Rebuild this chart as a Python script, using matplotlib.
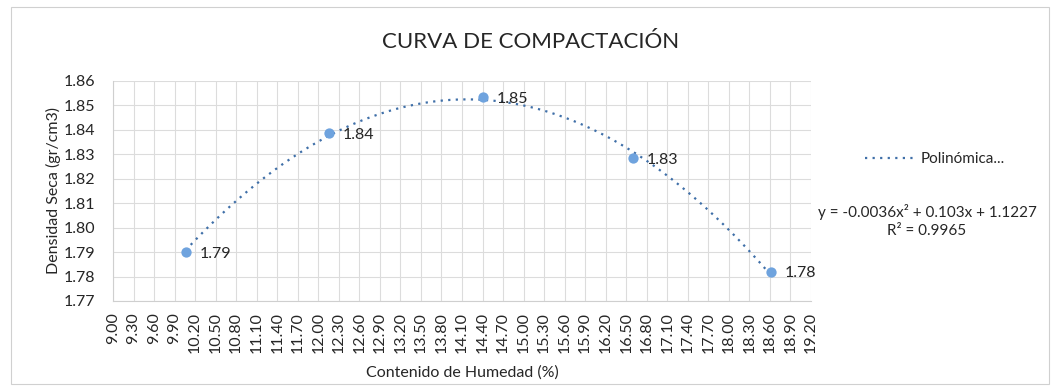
import numpy as np
import matplotlib
matplotlib.use("Agg")
import matplotlib.pyplot as plt
from matplotlib.patches import Rectangle
from matplotlib.lines import Line2D

plt.rcParams['font.family'] = ['Lato', 'DejaVu Sans']

# ensayo Proctor: humedad (%) y densidad seca (gr/cm3)
humedad = [10.06, 12.15, 14.40, 16.60, 18.61]
densidad = [1.790, 1.8386, 1.8534, 1.8284, 1.7819]
x_ticks = np.round(np.arange(9.0, 19.21, 0.3), 2)
y_ticks = [1.77, 1.78, 1.79, 1.80, 1.81, 1.82, 1.83, 1.84, 1.85, 1.86]
ecuacion = "y = -0.0036x² + 0.103x + 1.1227\nR² = 0.9965"

txt = '#262626'
fig = plt.figure(figsize=(10.52, 3.87), dpi=100)
ax = fig.add_axes([113/1052, 1 - 301/387, 698/1052, 220/387])

# marco del grafico
fig.patches.append(Rectangle((11/1052, 3/387), 1038/1052, 377/387, transform=fig.transFigure,
                             fill=False, edgecolor='#d0d0d0', linewidth=0.8))

# linea de tendencia polinomica de grado 2
coef = np.polyfit(humedad, densidad, 2)
xs = np.linspace(min(humedad), max(humedad), 200)
ax.plot(xs, np.polyval(coef, xs), linestyle=(0, (1, 2.4)), color='#3f6fa8', linewidth=1.6, zorder=2)
ax.scatter(humedad, densidad, s=55, color='#6fa3de', zorder=3, linewidths=0)

for xv, yv in zip(humedad, densidad):
    ax.annotate(f"{yv:.2f}", (xv, yv), xytext=(10, -1), textcoords='offset points',
                fontsize=11.5, color=txt, va='center', ha='left')

ax.set_xlim(9.0, 19.2)
ax.set_ylim(1.77, 1.86)
ax.set_xticks(x_ticks)
ax.set_xticklabels([f"{v:.2f}" for v in x_ticks], rotation=90)
ax.set_yticks(y_ticks)
ax.set_yticklabels([f"{v:.2f}" for v in y_ticks])
ax.tick_params(length=0, labelsize=11.5, labelcolor=txt)
ax.tick_params(axis='y', pad=13)
ax.tick_params(axis='x', pad=8)
ax.grid(True, color='#dcdcdc', linewidth=0.8)
for s in ax.spines.values():
    s.set_visible(False)
ax.spines['left'].set_visible(True)
ax.spines['left'].set_color('#cfcfcf')
ax.spines['bottom'].set_visible(True)
ax.spines['bottom'].set_color('#cfcfcf')

ax.set_ylabel("Densidad Seca (gr/cm3)", fontsize=11.5, color=txt, labelpad=2)
ax.set_xlabel("Contenido de Humedad (%)", fontsize=11.5, color=txt, labelpad=9)
fig.text(531/1052, 1 - 42/387, "CURVA DE COMPACTACIÓN", fontsize=16, color=txt,
         ha='center', va='center')

# leyenda y ecuacion de la tendencia
fig.legend([Line2D([0], [0], linestyle=(0, (1, 2.4)), color='#3f6fa8', linewidth=1.6)],
           ["Polinómica..."], loc='center', bbox_to_anchor=(935/1052, 1 - 159/387),
           frameon=False, fontsize=11, labelcolor=txt, handlelength=3.2, handletextpad=0.4)
fig.text(927/1052, 1 - 221/387, ecuacion, fontsize=11, color=txt, ha='center', va='center',
         linespacing=1.4)

fig.savefig("out.png", dpi=100)
